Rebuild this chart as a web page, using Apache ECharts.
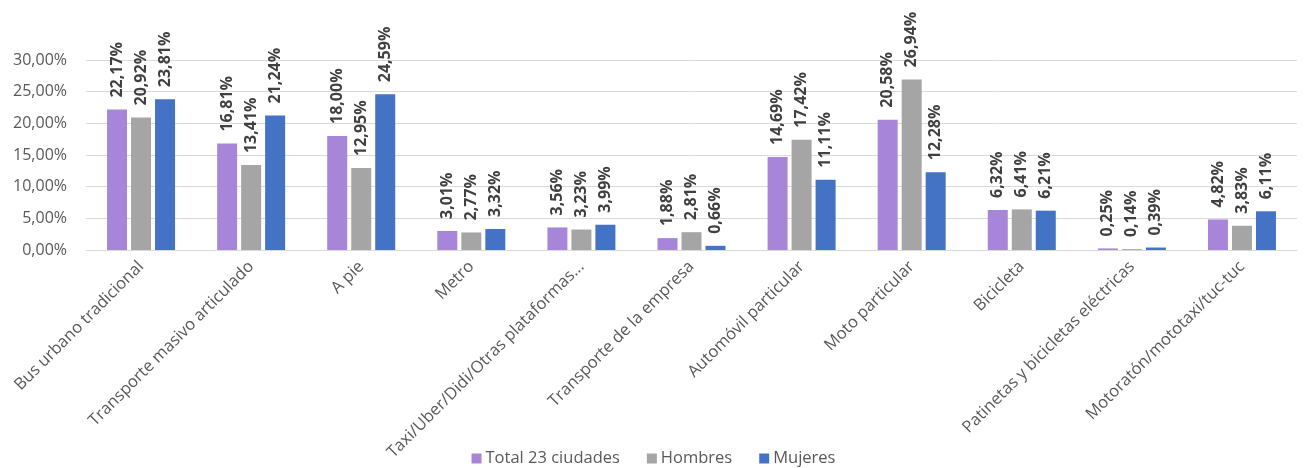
<!DOCTYPE html>
<html>
<head>
<meta charset="utf-8">
<script src="https://cdn.jsdelivr.net/npm/echarts@6/dist/echarts.min.js"></script>
<style>
html, body { margin: 0; padding: 0; background: #fff; }
#chart { width: 1307px; height: 468px; }
</style>
</head>
<body>
<div id="chart"></div>
<script>
// categorías (modo de transporte)
var categorias = [
    "Bus urbano tradicional",
    "Transporte masivo articulado",
    "A pie",
    "Metro",
    "Taxi/Uber/Didi/Otras plataformas...",
    "Transporte de la empresa",
    "Automóvil particular",
    "Moto particular",
    "Bicicleta",
    "Patinetas y bicicletas eléctricas",
    "Motoratón/mototaxi/tuc-tuc"
]
// valores en %
var total23 = [22.17, 16.81, 18.00, 3.01, 3.56, 1.88, 14.69, 20.58, 6.32, 0.25, 4.82]
var hombres = [20.92, 13.41, 12.95, 2.77, 3.23, 2.81, 17.42, 26.94, 6.41, 0.14, 3.83]
var mujeres = [23.81, 21.24, 24.59, 3.32, 3.99, 0.66, 11.11, 12.28, 6.21, 0.39, 6.11]
var nombresSeries = ["Total 23 ciudades", "Hombres", "Mujeres"]

var fuente = "'Open Sans', 'Noto Sans', sans-serif"

function pct(v) {
    return v.toFixed(2).replace(".", ",") + "%"
}

function serie(nombre, datos, color) {
    return {
        name: nombre,
        type: "bar",
        data: datos,
        barWidth: 20,
        barGap: "20%",
        itemStyle: { color: color },
        label: {
            show: true,
            position: "top",
            rotate: 90,
            align: "left",
            verticalAlign: "middle",
            distance: 12,
            fontFamily: fuente,
            fontSize: 16,
            fontWeight: "bold",
            color: "#404040",
            formatter: function(p) { return pct(p.value) }
        }
    }
}

var chart = echarts.init(document.getElementById("chart"))
var option = {
    animation: false,
    textStyle: { fontFamily: fuente },
    grid: { left: 86, right: 10, top: 60, bottom: 218 },
    legend: {
        data: nombresSeries,
        top: 445,
        left: "center",
        itemWidth: 10,
        itemHeight: 10,
        itemGap: 27,
        icon: "rect",
        textStyle: { fontFamily: fuente, fontSize: 16.5, color: "#595959", padding: [0, 0, 0, -1] }
    },
    xAxis: {
        type: "category",
        data: categorias,
        axisLine: { lineStyle: { color: "#D9D9D9" } },
        axisTick: { show: false },
        axisLabel: {
            rotate: 45,
            interval: 0,
            margin: 14,
            fontFamily: fuente,
            fontSize: 16.5,
            color: "#595959"
        }
    },
    yAxis: {
        type: "value",
        min: 0,
        max: 30,
        interval: 5,
        axisLine: { show: false },
        axisTick: { show: false },
        splitLine: { lineStyle: { color: "#D9D9D9" } },
        axisLabel: {
            margin: 19,
            fontFamily: fuente,
            fontSize: 16,
            color: "#595959",
            formatter: function(v) { return pct(v) }
        }
    },
    series: [
        serie(nombresSeries[0], total23, "#A786D9"),
        serie(nombresSeries[1], hombres, "#A5A5A5"),
        serie(nombresSeries[2], mujeres, "#4472C4")
    ]
}
chart.setOption(option)
</script>
</body>
</html>
